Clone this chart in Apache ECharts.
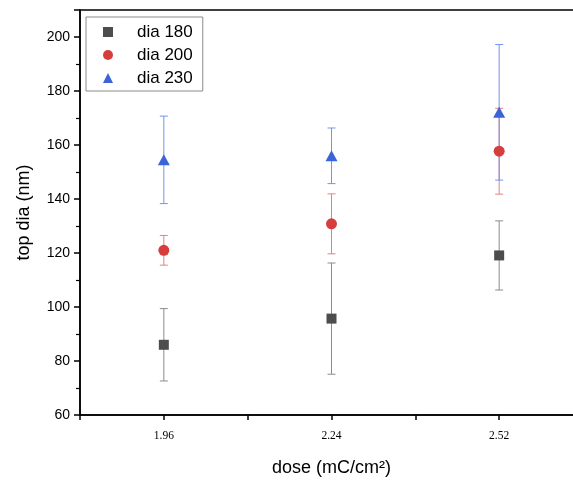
<!DOCTYPE html>
<html>
<head>
<meta charset="utf-8">
<script src="https://cdn.jsdelivr.net/npm/echarts@6/dist/echarts.min.js"></script>
<style>
  html, body { margin: 0; padding: 0; background: #fff; }
  #main { width: 573px; height: 481px; }
</style>
</head>
<body>
<div id="main"></div>
<script>
const doses = [1.96, 2.24, 2.52];
const xTickLabels = ['1.96', '2.24', '2.52'];
const dia180 = [86, 95.7, 119.1];
const err180 = [13.4, 20.6, 12.8];
const dia200 = [121, 130.8, 157.7];
const err200 = [5.5, 11.1, 15.9];
const dia230 = [154.5, 156, 172.1];
const err230 = [16.2, 10.3, 25.1];

const myChart = echarts.init(document.getElementById('main'));
const font = 'Liberation Sans, Arial, sans-serif';

function points(vals) {
  return doses.map((d, i) => [d, vals[i]]);
}
function bars(vals, errs) {
  return doses.map((d, i) => [d, vals[i] - errs[i], vals[i] + errs[i]]);
}

function errorBar(color) {
  return function (params, api) {
    const top = api.coord([api.value(0), api.value(2)]);
    const bot = api.coord([api.value(0), api.value(1)]);
    const hw = 4;
    const style = { stroke: color, lineWidth: 1, fill: null };
    return {
      type: 'group',
      children: [
        { type: 'line', shape: { x1: top[0], y1: top[1], x2: bot[0], y2: bot[1] }, style },
        { type: 'line', shape: { x1: top[0] - hw, y1: top[1], x2: top[0] + hw, y2: top[1] }, style },
        { type: 'line', shape: { x1: bot[0] - hw, y1: bot[1], x2: bot[0] + hw, y2: bot[1] }, style },
      ],
    };
  };
}

const option = {
  backgroundColor: '#fff',
  animation: false,
  grid: {
    left: 80,
    top: 10,
    width: 503,
    bottom: 66,
    outerBoundsMode: 'none',
    containLabel: false,
    show: true,
    borderColor: '#000',
    borderWidth: 1.5,
  },
  legend: {
    orient: 'vertical',
    left: 86,
    top: 17,
    padding: [5, 10, 3, 17],
    itemGap: 3,
    itemWidth: 10,
    itemHeight: 10,
    borderColor: '#8a8a8a',
    borderWidth: 1,
    backgroundColor: '#fff',
    textStyle: {
      fontFamily: font,
      fontSize: 17,
      color: '#000',
      lineHeight: 20,
      padding: [0, 0, 0, 19],
    },
    data: [
      { name: 'dia 180', icon: 'rect' },
      { name: 'dia 200', icon: 'circle' },
      { name: 'dia 230', icon: 'triangle' },
    ],
  },
  xAxis: {
    type: 'value',
    min: 1.82,
    max: 2.66,
    interval: 0.14,
    splitLine: { show: false },
    axisLine: { lineStyle: { color: '#000', width: 1.5 } },
    axisTick: { inside: false, length: 5, lineStyle: { color: '#000', width: 1.5 } },
    axisLabel: {
      margin: 15,
      fontFamily: 'Liberation Serif, Times New Roman, serif',
      fontSize: 11.5,
      color: '#000',
      formatter: function (v) {
        const s = v.toFixed(2);
        return xTickLabels.indexOf(s) >= 0 ? s : '';
      },
    },
    name: 'dose (mC/cm²)',
    nameLocation: 'middle',
    nameGap: 44,
    nameTextStyle: { fontFamily: font, fontSize: 18, color: '#000' },
  },
  yAxis: {
    type: 'value',
    min: 60,
    max: 210,
    interval: 20,
    splitLine: { show: false },
    axisLine: { show: true, lineStyle: { color: '#000', width: 1.5 } },
    axisTick: { show: true, length: 6, lineStyle: { color: '#000', width: 1.5 } },
    minorTick: { show: true, splitNumber: 2, length: 4, lineStyle: { color: '#000', width: 1.2 } },
    axisLabel: {
      margin: 10,
      fontFamily: font,
      fontSize: 14,
      color: '#000',
      showMaxLabel: false,
    },
    name: 'top dia (nm)',
    nameLocation: 'middle',
    nameGap: 47,
    nameTextStyle: { fontFamily: font, fontSize: 18, color: '#000' },
  },
  series: [
    {
      type: 'custom',
      name: 'err 180',
      renderItem: errorBar('#8c8c8c'),
      data: bars(dia180, err180),
      encode: { x: 0, y: [1, 2] },
      z: 2,
    },
    {
      type: 'custom',
      name: 'err 200',
      renderItem: errorBar('#e88080'),
      data: bars(dia200, err200),
      encode: { x: 0, y: [1, 2] },
      z: 2,
    },
    {
      type: 'custom',
      name: 'err 230',
      renderItem: errorBar('#7393ef'),
      data: bars(dia230, err230),
      encode: { x: 0, y: [1, 2] },
      z: 2,
    },
    {
      type: 'scatter',
      name: 'dia 180',
      symbol: 'rect',
      symbolSize: 10,
      itemStyle: { color: '#4d4d4d', opacity: 1 },
      data: points(dia180),
      z: 3,
    },
    {
      type: 'scatter',
      name: 'dia 200',
      symbol: 'circle',
      symbolSize: 11,
      itemStyle: { color: '#d63d3d', opacity: 1 },
      data: points(dia200),
      z: 3,
    },
    {
      type: 'scatter',
      name: 'dia 230',
      symbol: 'triangle',
      symbolSize: [12, 11],
      itemStyle: { color: '#3a64d8', opacity: 1 },
      data: points(dia230),
      z: 3,
    },
  ],
};

myChart.setOption(option);
</script>
</body>
</html>
